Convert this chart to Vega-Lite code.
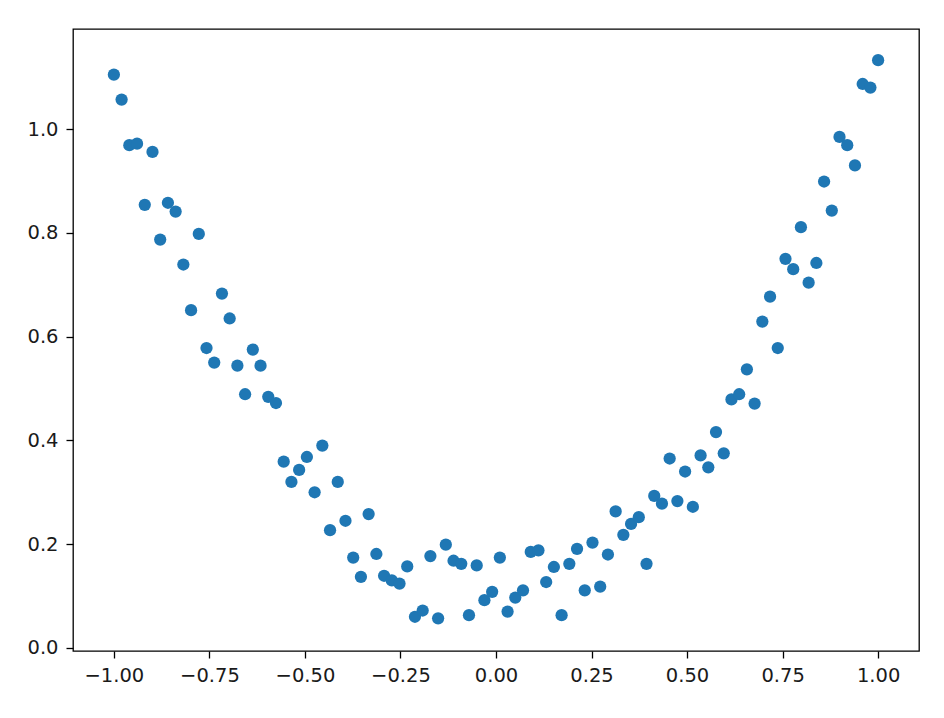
{
  "$schema": "https://vega.github.io/schema/vega-lite/v6.json",
  "width": 846,
  "height": 622,
  "autosize": {"type": "none"},
  "padding": {"left": 73, "top": 29, "right": 25, "bottom": 67},
  "background": "white",
  "config": {
    "view": {"stroke": "black", "strokeWidth": 1.3},
    "axis": {
      "domain": false,
      "grid": false,
      "ticks": true,
      "tickColor": "black",
      "tickWidth": 1.3,
      "tickSize": 7,
      "labelFont": "DejaVu Sans",
      "labelFontSize": 19.5,
      "labelColor": "#1a1a1a",
      "labelPadding": 8,
      "title": null
    }
  },
  "data": {
    "values": [
      {"x": -1.0, "y": 1.105}, {"x": -0.9798, "y": 1.057}, {"x": -0.9596, "y": 0.969}, {"x": -0.9394, "y": 0.972},
      {"x": -0.9192, "y": 0.854}, {"x": -0.899, "y": 0.956}, {"x": -0.8788, "y": 0.787}, {"x": -0.8586, "y": 0.858},
      {"x": -0.8384, "y": 0.841}, {"x": -0.8182, "y": 0.739}, {"x": -0.798, "y": 0.651}, {"x": -0.7778, "y": 0.798},
      {"x": -0.7576, "y": 0.578}, {"x": -0.7374, "y": 0.55}, {"x": -0.7172, "y": 0.683}, {"x": -0.697, "y": 0.635},
      {"x": -0.6768, "y": 0.544}, {"x": -0.6566, "y": 0.489}, {"x": -0.6364, "y": 0.575}, {"x": -0.6162, "y": 0.544},
      {"x": -0.596, "y": 0.484}, {"x": -0.5758, "y": 0.472}, {"x": -0.5556, "y": 0.359}, {"x": -0.5354, "y": 0.32},
      {"x": -0.5152, "y": 0.343}, {"x": -0.4949, "y": 0.368}, {"x": -0.4747, "y": 0.3}, {"x": -0.4545, "y": 0.39},
      {"x": -0.4343, "y": 0.227}, {"x": -0.4141, "y": 0.32}, {"x": -0.3939, "y": 0.245}, {"x": -0.3737, "y": 0.174},
      {"x": -0.3535, "y": 0.137}, {"x": -0.3333, "y": 0.258}, {"x": -0.3131, "y": 0.181}, {"x": -0.2929, "y": 0.139},
      {"x": -0.2727, "y": 0.13}, {"x": -0.2525, "y": 0.124}, {"x": -0.2323, "y": 0.157}, {"x": -0.2121, "y": 0.06},
      {"x": -0.1919, "y": 0.072}, {"x": -0.1717, "y": 0.177}, {"x": -0.1515, "y": 0.057}, {"x": -0.1313, "y": 0.199},
      {"x": -0.1111, "y": 0.168}, {"x": -0.0909, "y": 0.162}, {"x": -0.0707, "y": 0.063}, {"x": -0.0505, "y": 0.159},
      {"x": -0.0303, "y": 0.092}, {"x": -0.0101, "y": 0.108}, {"x": 0.0101, "y": 0.174}, {"x": 0.0303, "y": 0.07},
      {"x": 0.0505, "y": 0.097}, {"x": 0.0707, "y": 0.111}, {"x": 0.0909, "y": 0.185}, {"x": 0.1111, "y": 0.188},
      {"x": 0.1313, "y": 0.127}, {"x": 0.1515, "y": 0.156}, {"x": 0.1717, "y": 0.063}, {"x": 0.1919, "y": 0.162},
      {"x": 0.2121, "y": 0.191}, {"x": 0.2323, "y": 0.111}, {"x": 0.2525, "y": 0.203}, {"x": 0.2727, "y": 0.118},
      {"x": 0.2929, "y": 0.18}, {"x": 0.3131, "y": 0.263}, {"x": 0.3333, "y": 0.218}, {"x": 0.3535, "y": 0.239},
      {"x": 0.3737, "y": 0.252}, {"x": 0.3939, "y": 0.162}, {"x": 0.4141, "y": 0.293}, {"x": 0.4343, "y": 0.278},
      {"x": 0.4545, "y": 0.365}, {"x": 0.4747, "y": 0.283}, {"x": 0.4949, "y": 0.34}, {"x": 0.5152, "y": 0.272},
      {"x": 0.5354, "y": 0.371}, {"x": 0.5556, "y": 0.348}, {"x": 0.5758, "y": 0.416}, {"x": 0.596, "y": 0.375},
      {"x": 0.6162, "y": 0.479}, {"x": 0.6364, "y": 0.489}, {"x": 0.6566, "y": 0.537}, {"x": 0.6768, "y": 0.471},
      {"x": 0.697, "y": 0.629}, {"x": 0.7172, "y": 0.677}, {"x": 0.7374, "y": 0.578}, {"x": 0.7576, "y": 0.75},
      {"x": 0.7778, "y": 0.73}, {"x": 0.798, "y": 0.811}, {"x": 0.8182, "y": 0.704}, {"x": 0.8384, "y": 0.742},
      {"x": 0.8586, "y": 0.899}, {"x": 0.8788, "y": 0.843}, {"x": 0.899, "y": 0.985}, {"x": 0.9192, "y": 0.969},
      {"x": 0.9394, "y": 0.93}, {"x": 0.9596, "y": 1.087}, {"x": 0.9798, "y": 1.08}, {"x": 1.0, "y": 1.133}
    ]
  },
  "mark": {"type": "circle", "size": 150, "color": "#1f77b4", "opacity": 1},
  "encoding": {
    "x": {
      "field": "x",
      "type": "quantitative",
      "scale": {"domain": [-1.107, 1.107], "nice": false, "zero": false},
      "axis": {
        "values": [-1, -0.75, -0.5, -0.25, 0, 0.25, 0.5, 0.75, 1],
        "format": ".2f",
        "labelExpr": "replace(datum.label, '-', '\u2212')"
      }
    },
    "y": {
      "field": "y",
      "type": "quantitative",
      "scale": {"domain": [-0.006, 1.193], "nice": false, "zero": false},
      "axis": {
        "values": [0, 0.2, 0.4, 0.6, 0.8, 1.0],
        "format": ".1f"
      }
    }
  }
}
